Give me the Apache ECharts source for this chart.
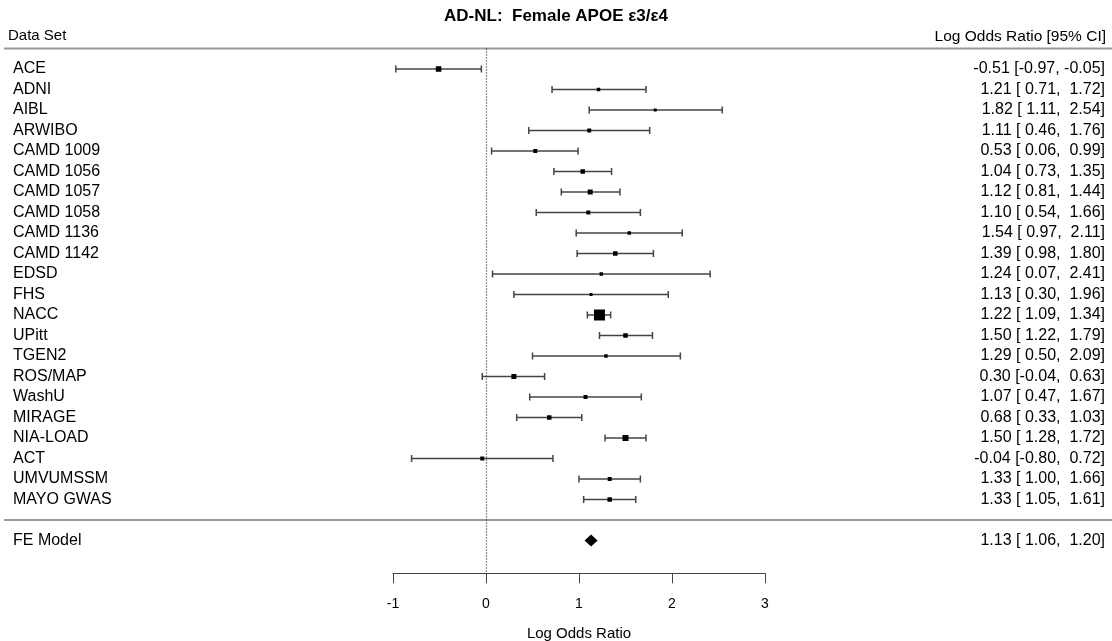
<!DOCTYPE html>
<html lang="en">
<head>
    <meta charset="utf-8">
    <title>AD-NL forest plot</title>
    <script src="https://cdn.jsdelivr.net/npm/echarts@6/dist/echarts.min.js"></script>
    <style>
        html, body { margin: 0; padding: 0; background: #fff; }
    </style>
</head>
<body>
    <div id="main" style="width: 1112px;height:641px;"></div>
<script type="text/javascript">
    // studies, top to bottom
    var studies = ['ACE', 'ADNI', 'AIBL', 'ARWIBO', 'CAMD 1009', 'CAMD 1056', 'CAMD 1057', 'CAMD 1058',
        'CAMD 1136', 'CAMD 1142', 'EDSD', 'FHS', 'NACC', 'UPitt', 'TGEN2', 'ROS/MAP', 'WashU',
        'MIRAGE', 'NIA-LOAD', 'ACT', 'UMVUMSSM', 'MAYO GWAS'];
    var estimate = [-0.51, 1.21, 1.82, 1.11, 0.53, 1.04, 1.12, 1.10, 1.54, 1.39, 1.24, 1.13,
        1.22, 1.50, 1.29, 0.30, 1.07, 0.68, 1.50, -0.04, 1.33, 1.33];
    var lower = [-0.97, 0.71, 1.11, 0.46, 0.06, 0.73, 0.81, 0.54, 0.97, 0.98, 0.07, 0.30,
        1.09, 1.22, 0.50, -0.04, 0.47, 0.33, 1.28, -0.80, 1.00, 1.05];
    var upper = [-0.05, 1.72, 2.54, 1.76, 0.99, 1.35, 1.44, 1.66, 2.11, 1.80, 2.41, 1.96,
        1.34, 1.79, 2.09, 0.63, 1.67, 1.03, 1.72, 0.72, 1.66, 1.61];
    // box size (px)
    var boxSize = [5.5, 3.5, 3, 4, 4, 4.5, 5, 4, 3.5, 4.5, 3.5, 3, 11, 4.5, 3.5, 5, 4, 4.5, 6, 4, 4, 4.5];

    // fixed effect model
    var feName = 'FE Model';
    var fe = [1.13, 1.06, 1.20];   // estimate, lower, upper
    var feRow = studies.length + 1;

    var xTicks = [-1, 0, 1, 2, 3];

    function pad(v) {
        return (v < 0 ? '' : ' ') + v.toFixed(2);
    }
    function ciText(e, l, u) {
        return e.toFixed(2) + ' [' + pad(l) + ', ' + pad(u) + ']';
    }

    var leftLabels = {}, rightLabels = {};
    var studyData = [];
    for (var i = 0; i < studies.length; i++) {
        leftLabels[i] = studies[i];
        rightLabels[i] = ciText(estimate[i], lower[i], upper[i]);
        studyData.push([i, lower[i], estimate[i], upper[i], boxSize[i]]);
    }
    leftLabels[feRow] = feName;
    rightLabels[feRow] = ciText(fe[0], fe[1], fe[2]);

    var font = 'Liberation Sans, Arial, Helvetica, sans-serif';
    var barColor = '#444';

    var myChart = echarts.init(document.getElementById('main'));

    var option = {
        animation: false,
        backgroundColor: '#fff',
        title: {
            text: 'AD-NL:  Female APOE \u03b53/\u03b54',
            left: 'center',
            top: 3,
            textStyle: { fontFamily: font, fontSize: 17, fontWeight: 'bold', color: '#000' }
        },
        grid: {
            left: 393,
            right: 347,
            top: 48.5,
            bottom: 67.7,
            outerBoundsMode: 'none'
        },
        xAxis: {
            type: 'value',
            min: xTicks[0],
            max: xTicks[xTicks.length - 1],
            interval: 1,
            splitLine: { show: false },
            axisLine: { show: true, onZero: false, lineStyle: { color: '#444', width: 1 } },
            axisTick: { show: true, length: 10, lineStyle: { color: '#444' } },
            axisLabel: { color: '#000', fontFamily: font, fontSize: 14, margin: 24 },
            name: 'Log Odds Ratio',
            nameLocation: 'middle',
            nameGap: 53,
            nameTextStyle: { color: '#000', fontFamily: font, fontSize: 15 }
        },
        yAxis: [{
            type: 'value',
            inverse: true,
            min: -1,
            max: 24.6,
            interval: 1,
            axisLine: { show: false },
            axisTick: { show: false },
            splitLine: { show: false },
            axisLabel: {
                align: 'left',
                margin: 380,
                showMaxLabel: false,
                color: '#000',
                fontFamily: font,
                fontSize: 16,
                formatter: function (v) { return leftLabels[v] || ''; }
            }
        }, {
            type: 'value',
            position: 'right',
            inverse: true,
            min: -1,
            max: 24.6,
            interval: 1,
            axisLine: { show: false },
            axisTick: { show: false },
            splitLine: { show: false },
            axisLabel: {
                align: 'right',
                margin: 340,
                showMaxLabel: false,
                color: '#000',
                fontFamily: font,
                fontSize: 16,
                formatter: function (v) { return rightLabels[v] || ''; }
            }
        }],
        series: [
            {
                name: 'studies',
                type: 'custom',
                encode: { x: [1, 2, 3], y: 0 },
                renderItem: function (params, api) {
                    var row = api.value(0);
                    var pL = api.coord([api.value(1), row]);
                    var pE = api.coord([api.value(2), row]);
                    var pR = api.coord([api.value(3), row]);
                    var sz = api.value(4);
                    var st = { stroke: barColor, lineWidth: 1.5 };
                    return {
                        type: 'group',
                        children: [
                            { type: 'line', shape: { x1: pL[0], y1: pL[1], x2: pR[0], y2: pR[1] }, style: st },
                            { type: 'line', shape: { x1: pL[0], y1: pL[1] - 3.5, x2: pL[0], y2: pL[1] + 3.5 }, style: st },
                            { type: 'line', shape: { x1: pR[0], y1: pR[1] - 3.5, x2: pR[0], y2: pR[1] + 3.5 }, style: st },
                            { type: 'rect', shape: { x: pE[0] - sz / 2, y: pE[1] - sz / 2, width: sz, height: sz }, style: { fill: '#000' } }
                        ]
                    };
                },
                data: studyData,
                markLine: {
                    silent: true,
                    symbol: 'none',
                    label: { show: false },
                    lineStyle: { color: '#222', type: [1, 2], width: 1.2 },
                    data: [{ xAxis: 0 }]
                },
                z: 3
            },
            {
                name: 'fe',
                type: 'custom',
                encode: { x: [1, 2, 3], y: 0 },
                renderItem: function (params, api) {
                    var row = api.value(0);
                    var pE = api.coord([api.value(1), row]);
                    var pL = api.coord([api.value(2), row]);
                    var pR = api.coord([api.value(3), row]);
                    var h = 6;
                    return {
                        type: 'polygon',
                        shape: { points: [[pL[0], pL[1]], [pE[0], pE[1] - h], [pR[0], pR[1]], [pE[0], pE[1] + h]] },
                        style: { fill: '#000' }
                    };
                },
                data: [[feRow, fe[0], fe[1], fe[2]]],
                z: 3
            }
        ]
    };

    myChart.setOption(option);

    // header texts and the two horizontal rules across the page
    var yTop = myChart.convertToPixel({ yAxisIndex: 0 }, -1);
    var ySep = myChart.convertToPixel({ yAxisIndex: 0 }, studies.length);
    myChart.setOption({
        graphic: [
            { type: 'line', shape: { x1: 4, y1: yTop, x2: 1112, y2: yTop }, style: { stroke: '#999', lineWidth: 2 } },
            { type: 'line', shape: { x1: 4, y1: ySep, x2: 1112, y2: ySep }, style: { stroke: '#999', lineWidth: 2 } },
            { type: 'text', left: 8, top: yTop - 20, style: { text: 'Data Set', font: '15px ' + font, fill: '#000' } },
            { type: 'text', right: 6, top: yTop - 20, style: { text: 'Log Odds Ratio [95% CI]', font: '15.5px ' + font, fill: '#000' } }
        ]
    });
</script>
</body>
</html>
